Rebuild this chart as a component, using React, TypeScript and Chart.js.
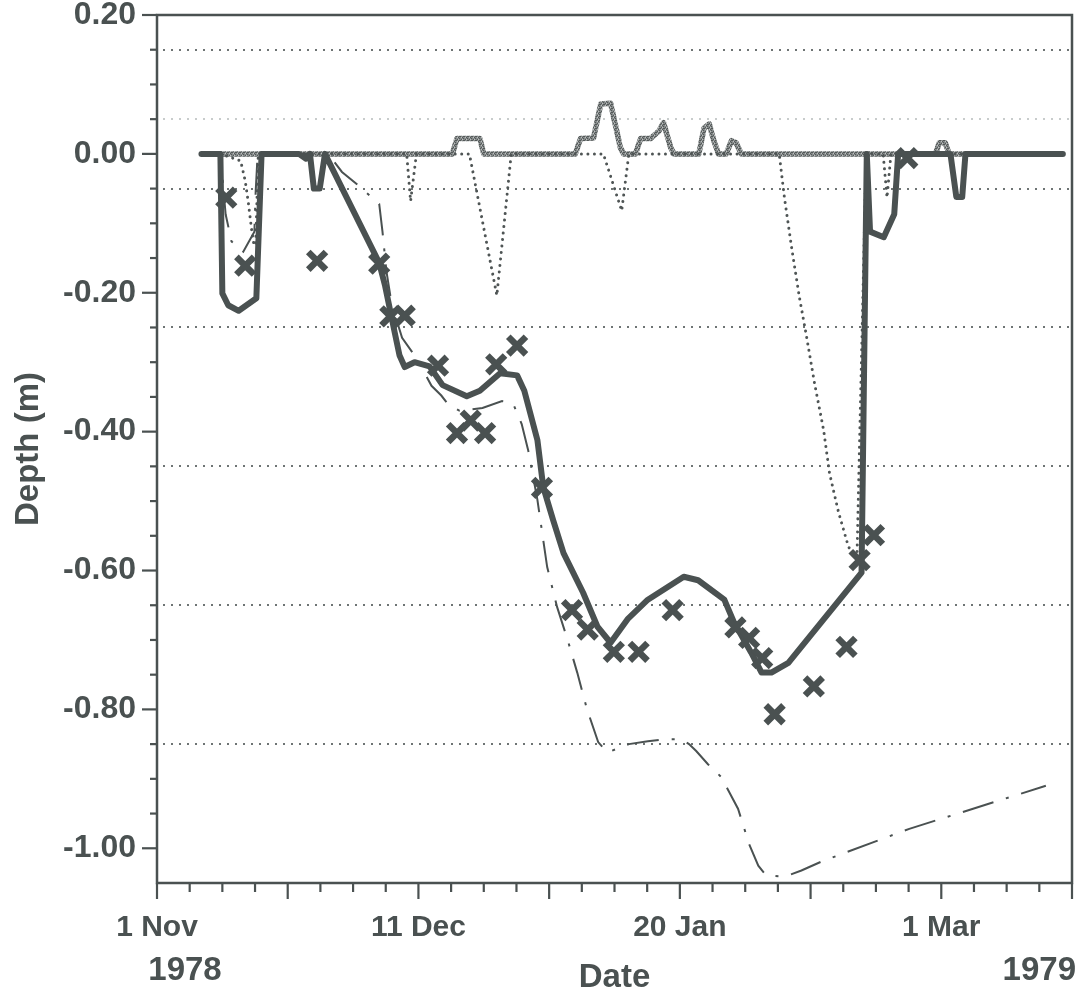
import React, { useEffect, useRef } from 'react';
import { Chart, registerables } from 'chart.js';

Chart.register(...registerables);

// ---------- data (day = days after 1 Nov 1978, depth in m) ----------
const xLabelDays = [0, 40, 80, 120];
const xLabelTexts = ['1 Nov', '11 Dec', '20 Jan', '1 Mar'];
const yearLabels = ['1978', '1979'];
const gridLevels = [0.15, 0.05, -0.05, -0.25, -0.45, -0.65, -0.85];

const thickDays = [6.8, 9.7, 10.0, 10.9, 12.5, 15.2, 16.0, 21.7, 22.8, 23.4, 24.0, 24.9, 25.7,
  34.0, 34.9, 35.9, 37.1, 37.9, 39.4, 41.7, 43.7, 47.4, 49.4, 52.5, 55.1, 56.2, 58.2, 59.1,
  60.6, 62.2, 65.2, 67.4, 69.4, 72.0, 75.1, 80.6, 82.8, 86.8, 88.3, 90.9, 92.5, 94.0, 96.6,
  107.8, 108.6, 109.1, 111.2, 112.8, 113.4, 121.4, 122.3, 123.2, 123.7, 138.6];
const thickDepths = [0, 0, -0.201, -0.218, -0.226, -0.208, 0, 0, -0.007, 0, -0.05, -0.05, 0,
  -0.157, -0.19, -0.236, -0.29, -0.307, -0.3, -0.306, -0.333, -0.349, -0.341, -0.316, -0.319, -0.341, -0.412, -0.48,
  -0.527, -0.575, -0.632, -0.681, -0.704, -0.67, -0.642, -0.609, -0.614, -0.642, -0.675, -0.718, -0.747, -0.747, -0.733,
  -0.603, 0, -0.112, -0.12, -0.087, 0, 0, -0.062, -0.062, 0, 0];

const dashDotDays = [6.8, 9.7, 10.5, 11.4, 13.2, 14.9, 15.1, 15.4, 26.2, 28.3, 30.5, 32.8, 34.0, 34.5,
  35.1, 35.9, 37.5, 39.7, 40.2, 42.0, 43.5, 44.5, 46.3, 49.8, 52.8, 54.5, 55.8, 56.8, 58.2, 59.7,
  61.2, 62.8, 64.3, 65.8, 67.5, 68.9, 72.2, 75.1, 77.8, 80.2, 81.4, 82.5, 84.3, 86.3, 88.9, 90.6,
  92.0, 93.2, 96.0, 98.6, 101.7, 115.1, 136.0];
const dashDotDepths = [0, 0, -0.087, -0.126, -0.141, -0.112, -0.054, 0, 0, -0.026, -0.043, -0.062, -0.072, -0.112,
  -0.169, -0.216, -0.265, -0.294, -0.303, -0.334, -0.348, -0.36, -0.37, -0.366, -0.356, -0.36, -0.389, -0.427, -0.498, -0.595,
  -0.652, -0.699, -0.747, -0.8, -0.847, -0.862, -0.85, -0.846, -0.843, -0.843, -0.85, -0.86, -0.879, -0.897, -0.943, -0.994,
  -1.025, -1.039, -1.041, -1.032, -1.019, -0.972, -0.91];

const dottedDays = [9.7, 12.8, 13.5, 14.0, 14.5, 14.8, 15.1, 15.4, 15.5, 38.2, 38.8, 39.7, 47.8, 52.0, 54.2,
  68.3, 71.1, 72.2, 95.2, 96.0, 97.1, 98.3, 99.4, 100.6, 102.0, 102.9, 104.3, 105.8, 107.1, 108.5,
  111.1, 111.7, 112.3, 138.6];
const dottedDepths = [0, -0.01, -0.039, -0.072, -0.111, -0.129, -0.132, -0.032, 0, 0, -0.068, 0, 0, -0.204, 0,
  0, -0.082, 0, 0, -0.063, -0.135, -0.207, -0.264, -0.33, -0.398, -0.46, -0.517, -0.566, -0.582, 0,
  0, -0.063, 0, 0];

const grayDays = [6.8, 45.2, 45.9, 49.4, 50.0, 64.0, 64.8, 66.8, 67.9, 69.4, 70.9, 71.4, 73.2, 74.0, 75.5,
  76.8, 77.5, 78.6, 79.1, 82.9, 83.7, 84.5, 85.2, 85.9, 87.1, 87.9, 88.6, 89.4, 119.1, 119.7, 120.6, 121.2, 138.6];
const grayDepths = [0, 0, 0.022, 0.022, 0, 0, 0.022, 0.023, 0.072, 0.073, 0.009, 0, 0, 0.022, 0.022,
  0.033, 0.045, 0.009, 0, 0, 0.037, 0.043, 0.019, 0, 0, 0.019, 0.016, 0, 0, 0.016, 0.016, 0, 0];

const obsDays = [10.6, 13.5, 24.5, 34.0, 35.7, 37.9, 43.0, 45.9, 48.0, 50.2, 51.9, 55.1, 58.9, 63.5, 65.9,
  69.9, 73.7, 78.9, 88.5, 90.6, 92.6, 94.5, 100.5, 105.5, 107.5, 109.7, 114.8];
const obsDepths = [-0.063, -0.161, -0.154, -0.158, -0.234, -0.233, -0.305, -0.402, -0.384, -0.402, -0.303, -0.276, -0.481,
  -0.657, -0.685, -0.717, -0.717, -0.657, -0.682, -0.697, -0.726, -0.807, -0.767, -0.71, -0.585, -0.549, -0.006];

// ---------- styling ----------
const INK = '#4a5151';
const FONT = "'Liberation Sans', Arial, Helvetica, sans-serif";

const pts = (xs: number[], ys: number[]) => xs.map((x, i) => ({ x, y: ys[i] }));

function grayPattern(): CanvasPattern | string {
  const c = document.createElement('canvas');
  c.width = 4; c.height = 4;
  const g = c.getContext('2d');
  if (!g) return '#7f8484';
  g.fillStyle = '#858a8a';
  g.fillRect(0, 0, 4, 4);
  g.fillStyle = '#535858';
  g.fillRect(0, 0, 1, 1); g.fillRect(2, 1, 1, 1); g.fillRect(1, 3, 1, 1); g.fillRect(3, 2, 1, 1);
  g.fillRect(3, 0, 1, 1);
  g.fillStyle = '#bfc2c2';
  g.fillRect(1, 1, 1, 1); g.fillRect(2, 3, 1, 1);
  const p = g.createPattern(c, 'repeat');
  return p || '#7f8484';
}

const decor = {
  id: 'decor',
  beforeDatasetsDraw(chart: any) {
    const { ctx, chartArea: a, scales } = chart;
    const y = scales.y;
    ctx.save();
    gridLevels.forEach((lv) => {
      const py = Math.round(y.getPixelForValue(lv));
      ctx.fillStyle = lv === 0.05 ? '#c8cccc' : '#6e7474';
      for (let px = a.left + 6; px < a.right - 3; px += 8) {
        ctx.fillRect(px, py - 1, 2, 2);
      }
    });
    ctx.restore();
  },
  afterDraw(chart: any) {
    const { ctx, chartArea: a, scales } = chart;
    const x = scales.x;
    const y = scales.y;
    ctx.save();
    ctx.strokeStyle = INK;
    ctx.lineWidth = 2.5;
    ctx.lineCap = 'square';
    ctx.beginPath();
    ctx.moveTo(a.left, a.top);
    ctx.lineTo(a.right, a.top);
    ctx.lineTo(a.right, a.bottom);
    ctx.lineTo(a.left, a.bottom);
    ctx.closePath();
    ctx.stroke();
    ctx.lineCap = 'butt';
    ctx.lineWidth = 2.2;
    for (let c = -100; c <= 20; c += 5) {
      const py = y.getPixelForValue(c / 100);
      const len = c % 20 === 0 ? 15 : 7;
      ctx.beginPath();
      ctx.moveTo(a.left, py);
      ctx.lineTo(a.left - len, py);
      ctx.stroke();
    }
    for (let d = 0; d <= 140; d += 5) {
      const px = x.getPixelForValue(d);
      const len = d % 20 === 0 ? 16 : 9;
      ctx.beginPath();
      ctx.moveTo(px, a.bottom);
      ctx.lineTo(px, a.bottom + len);
      ctx.stroke();
    }
    ctx.fillStyle = INK;
    ctx.font = `bold 33px ${FONT}`;
    ctx.textBaseline = 'middle';
    ctx.textAlign = 'center';
    ctx.fillText(yearLabels[0], x.getPixelForValue(0) + 28, 971);
    ctx.textAlign = 'right';
    ctx.fillText(yearLabels[1], chart.width - 1, 971);
    ctx.restore();
  },
};

export default function App() {
  const ref = useRef<HTMLCanvasElement | null>(null);
  useEffect(() => {
    if (!ref.current) return;
    const chart = new Chart(ref.current, {
      type: 'line',
      data: {
        datasets: [
          {
            label: 'Observed',
            data: pts(obsDays, obsDepths),
            showLine: false,
            pointStyle: 'crossRot',
            pointRadius: 12.5,
            pointHoverRadius: 12.5,
            pointBorderWidth: 6.5,
            pointBorderColor: INK,
            pointBackgroundColor: INK,
            borderColor: INK,
            order: 0,
          },
          {
            label: 'Model',
            data: pts(thickDays, thickDepths),
            borderColor: INK,
            borderWidth: 6,
            borderJoinStyle: 'round',
            borderCapStyle: 'round',
            pointRadius: 0,
            tension: 0,
            order: 1,
          },
          {
            label: 'Model B',
            data: pts(dashDotDays, dashDotDepths),
            borderColor: INK,
            borderWidth: 2,
            borderDash: [32, 13, 3, 13],
            pointRadius: 0,
            tension: 0,
            order: 2,
          },
          {
            label: 'Model C',
            data: pts(dottedDays, dottedDepths),
            borderColor: '#4f5555',
            borderWidth: 3,
            borderDash: [0.01, 6.5],
            borderCapStyle: 'round',
            pointRadius: 0,
            tension: 0,
            order: 3,
          },
          {
            label: 'Snow',
            data: pts(grayDays, grayDepths),
            borderColor: grayPattern() as any,
            borderWidth: 5.5,
            borderJoinStyle: 'round',
            pointRadius: 0,
            tension: 0,
            order: 4,
          },
        ],
      },
      options: {
        animation: false,
        responsive: true,
        maintainAspectRatio: false,
        layout: { autoPadding: false, padding: { top: 15, right: 5, left: 0, bottom: 0 } },
        plugins: { legend: { display: false }, tooltip: { enabled: false } },
        scales: {
          x: {
            type: 'linear',
            min: 0,
            max: 140,
            afterFit(s: any) { s.height = 112; s.paddingLeft = 0; s.paddingRight = 0; },
            grid: {
              display: true,
              drawOnChartArea: false,
              drawTicks: true,
              tickLength: 27,
              color: 'rgba(0,0,0,0)',
              tickColor: 'rgba(0,0,0,0)',
            },
            border: { display: false },
            ticks: {
              stepSize: 5,
              autoSkip: false,
              maxRotation: 0,
              padding: 0,
              color: INK,
              font: { size: 30, family: FONT, weight: 'bold' },
              callback: (v: any) => {
                const i = xLabelDays.indexOf(Number(v));
                return i >= 0 ? xLabelTexts[i] : '';
              },
            },
            title: {
              display: true,
              text: 'Date',
              color: INK,
              font: { size: 33, family: FONT, weight: 'bold' },
              padding: { top: 0, bottom: -3 },
            },
          },
          y: {
            type: 'linear',
            min: -1.05,
            max: 0.2,
            afterFit(s: any) { s.width = 157; s.paddingTop = 0; s.paddingBottom = 0; },
            grid: { display: false },
            border: { display: false },
            ticks: {
              stepSize: 0.05,
              autoSkip: false,
              padding: 13,
              color: INK,
              font: { size: 32, family: FONT, weight: 'bold' },
              callback: (v: any) => {
                const c = Math.round(Number(v) * 100);
                return c % 20 === 0 ? (c / 100).toFixed(2) : '';
              },
            },
            title: {
              display: true,
              text: 'Depth (m)',
              color: INK,
              font: { size: 33, family: FONT, weight: 'bold' },
              padding: { top: 9, bottom: 0 },
            },
          },
        },
      },
      plugins: [decor],
    });
    return () => chart.destroy();
  }, []);

  return (
    <div style={{ position: 'fixed', left: 0, top: 0, width: 1077, height: 995, background: '#ffffff' }}>
      <canvas ref={ref} />
    </div>
  );
}
